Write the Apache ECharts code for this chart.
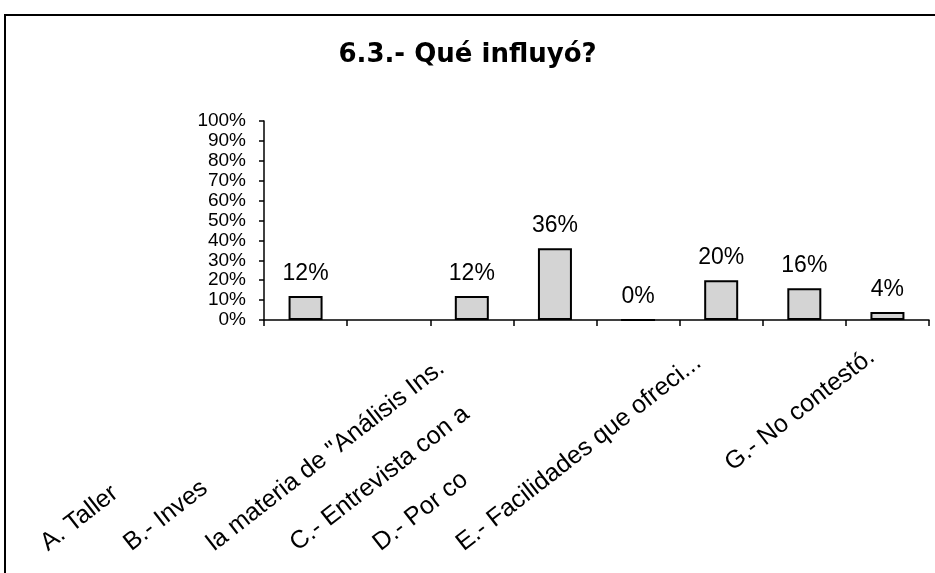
<!DOCTYPE html>
<html>
<head>
<meta charset="utf-8">
<script src="https://cdn.jsdelivr.net/npm/echarts@6/dist/echarts.min.js"></script>
<style>html,body{margin:0;padding:0;background:#fff}#c{width:935px;height:573px}</style>
</head>
<body>
<div id="c"></div>
<script>
var titleText = '6.3.- Qué influyó?';
var categories = ['A. Taller', 'B.- Inves', 'la materia de "Análisis Ins.', 'C.- Entrevista con a', 'D.- Por co', 'E.- Facilidades que ofreci...', '', 'G.- No contestó.'];
var values = [12, null, 12, 36, 0, 20, 16, 4];
var yTicks = [0, 10, 20, 30, 40, 50, 60, 70, 80, 90, 100];

var chart = echarts.init(document.getElementById('c'), null, {renderer: 'canvas'});
var catLabelStyle = {
  rotate: 38, align: 'left', verticalAlign: 'bottom',
  fontFamily: 'Liberation Sans', fontSize: 25, color: '#000'
};
var labelData = categories.map(function (c, i) {
  if (i === categories.length - 1) {
    return {value: c, textStyle: Object.assign({}, catLabelStyle, {padding: [0, 0, 0, 130]})};
  }
  return c;
});
chart.setOption({
  animation: false,
  backgroundColor: '#fff',
  title: {
    text: titleText, left: 'center', top: 37,
    textStyle: {fontFamily: 'DejaVu Sans', fontWeight: 'bold', fontSize: 26, color: '#000'}
  },
  graphic: [{type: 'rect', shape: {x: 5, y: 15, width: 940, height: 570}, style: {fill: 'none', stroke: '#000', lineWidth: 2}, silent: true}],
  grid: [
    {left: 264, right: 6, top: 121, bottom: 253, outerBoundsMode: 'none', containLabel: false},
    {left: 10, right: 260, top: 121, bottom: 253, outerBoundsMode: 'none', containLabel: false}
  ],
  xAxis: [
    {
      type: 'category', gridIndex: 0, data: categories,
      axisLine: {lineStyle: {color: '#000', width: 1.5}},
      axisTick: {show: true, interval: 0, length: 6, lineStyle: {color: '#000', width: 1.5}},
      axisLabel: {show: false, interval: 0}
    },
    {
      type: 'category', gridIndex: 1, data: labelData,
      axisLine: {show: false}, axisTick: {show: false},
      axisLabel: Object.assign({interval: 0, margin: 236}, catLabelStyle)
    }
  ],
  yAxis: [
    {
      type: 'value', gridIndex: 0, min: 0, max: 100, interval: 10,
      axisLine: {show: true, lineStyle: {color: '#000', width: 1.5}},
      axisTick: {show: true, length: 5, lineStyle: {color: '#000', width: 1.5}},
      splitLine: {show: false},
      axisLabel: {formatter: '{value}%', margin: 18, fontFamily: 'Liberation Sans', fontSize: 19, color: '#000'}
    },
    {type: 'value', gridIndex: 1, min: 0, max: 100, show: false}
  ],
  series: [{
    type: 'bar', xAxisIndex: 0, yAxisIndex: 0, data: values, barWidth: 34,
    itemStyle: {color: '#d4d4d4', borderColor: '#000', borderWidth: 2},
    label: {show: true, position: 'top', distance: 11, formatter: '{c}%', fontFamily: 'Liberation Sans', fontSize: 23, color: '#000'}
  }]
});
</script>
</body>
</html>
